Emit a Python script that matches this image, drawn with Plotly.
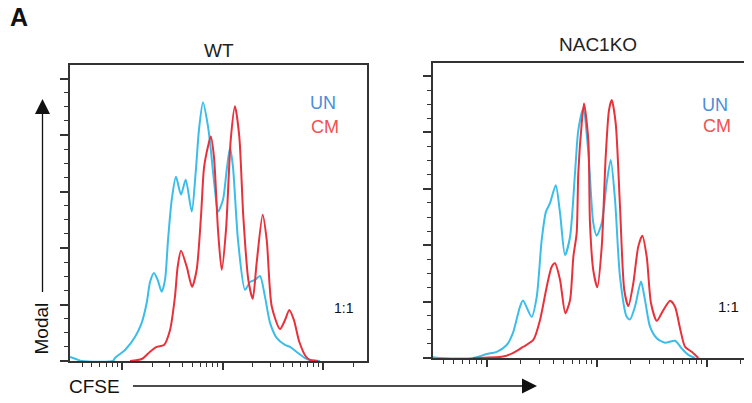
import numpy as np
import plotly.graph_objects as go

# ---------------- data (log10 CFSE intensity, % of max) ----------------
wt_un_log = [2.483, 2.542, 2.602, 2.910, 2.930, 3.030, 3.129, 3.196, 3.246, 3.279, 3.318, 3.355,
             3.395, 3.428, 3.458, 3.495, 3.537, 3.587, 3.634, 3.694, 3.733, 3.766, 3.806, 3.856,
             3.876, 3.925, 3.955, 4.005, 4.042, 4.075, 4.104, 4.154, 4.224, 4.274, 4.323, 4.373,
             4.423, 4.473, 4.539, 4.622, 4.672, 4.738, 4.821, 4.871, 4.970]
wt_un_val = [1.4, 0.7, 0.0, 0.0, 1.06, 3.9, 8.5, 13.5, 20.6, 28.0, 31.2, 28.7,
             24.5, 28.7, 42.9, 57.1, 65.2, 58.9, 64.2, 52.9, 66.7, 81.9, 91.6, 83.0,
             77.3, 60.6, 52.9, 57.1, 67.7, 75.5, 68.8, 42.9, 25.2, 28.0, 28.7, 30.1,
             22.7, 13.5, 8.2, 5.7, 5.0, 3.2, 1.06, 0.35, 0.0]

wt_cm_log = [3.080, 3.196, 3.279, 3.345, 3.418, 3.478, 3.527, 3.554, 3.587, 3.644, 3.697, 3.743,
             3.786, 3.816, 3.856, 3.883, 3.915, 3.955, 3.992, 4.035, 4.082, 4.124, 4.167, 4.207,
             4.257, 4.301, 4.340, 4.400, 4.440, 4.490, 4.572, 4.622, 4.665, 4.711, 4.764, 4.831,
             4.871, 4.950]
wt_cm_val = [0.0, 0.7, 3.3, 5.0, 5.7, 11.0, 22.8, 33.4, 39.0, 33.4, 26.3, 32.3,
             51.2, 68.4, 76.0, 79.5, 72.3, 46.5, 32.3, 46.5, 78.4, 90.2, 79.5, 51.2,
             28.7, 22.0, 34.8, 51.8, 42.9, 19.3, 11.3, 14.5, 18.1, 14.5, 6.8, 1.5,
             0.35, 0.0]

ko_un_log = [2.506, 2.573, 2.873, 2.997, 3.088, 3.179, 3.236, 3.300, 3.327, 3.406, 3.452, 3.497,
             3.536, 3.573, 3.625, 3.664, 3.709, 3.755, 3.800, 3.830, 3.875, 3.921, 3.966, 3.997,
             4.043, 4.088, 4.125, 4.164, 4.209, 4.270, 4.300, 4.345, 4.400, 4.436, 4.482, 4.543,
             4.618, 4.709, 4.770, 4.830, 4.891]
ko_un_val = [0.25, 0.0, 0.0, 1.4, 2.2, 4.6, 8.9, 18.2, 20.4, 14.6, 21.7, 41.8,
             51.9, 54.9, 61.3, 51.4, 36.5, 43.0, 65.6, 80.8, 88.5, 73.0, 47.9, 43.4,
             47.9, 62.1, 70.2, 56.0, 28.8, 14.6, 13.7, 18.2, 27.1, 20.6, 11.1, 7.0,
             5.4, 6.1, 3.4, 1.1, 0.0]

ko_cm_log = [2.873, 3.145, 3.239, 3.330, 3.421, 3.482, 3.543, 3.588, 3.618, 3.664, 3.712, 3.755,
             3.785, 3.815, 3.830, 3.861, 3.882, 3.921, 3.936, 3.966, 4.003, 4.043, 4.079, 4.109,
             4.134, 4.170, 4.209, 4.248, 4.285, 4.330, 4.375, 4.412, 4.452, 4.491, 4.543, 4.603,
             4.664, 4.709, 4.755, 4.800, 4.861, 4.921]
ko_cm_val = [0.0, 0.5, 1.8, 4.0, 6.4, 13.5, 25.3, 32.4, 33.6, 27.7, 15.9, 20.6,
             35.9, 44.3, 65.6, 83.2, 90.3, 77.3, 47.9, 31.2, 25.1, 39.5, 71.4, 87.9,
             91.5, 83.2, 53.7, 24.1, 18.4, 26.5, 39.5, 43.4, 35.9, 19.4, 13.2, 17.0,
             20.3, 18.2, 10.5, 4.0, 2.2, 0.0]

panel_titles = ["WT", "NAC1KO"]
series_names = ["UN", "CM"]
ratio_label = "1:1"

# ---------------- layout helpers (page pixel -> paper) ----------------
# the page body has an 8 px default margin, so the figure is 8 px smaller and offset
OFF = 8
W, H = 752 - OFF, 403 - OFF
def px(x):
    return (x - OFF) / W
def py(y):
    return 1 - (y - OFF) / H

BLUE = "#3bbdea"
RED = "#e8313a"
UN_TXT = "#4a8fd8"
CM_TXT = "#f05252"
AX = "#333333"
FONT = "Liberation Sans, Arial, sans-serif"

fig = go.Figure()

panels = [
    dict(xa="x", ya="y", un=(wt_un_log, wt_un_val), cm=(wt_cm_log, wt_cm_val)),
    dict(xa="x2", ya="y2", un=(ko_un_log, ko_un_val), cm=(ko_cm_log, ko_cm_val)),
]
for p in panels:
    for (lx, vals), col, name in [(p["un"], BLUE, "UN"), (p["cm"], RED, "CM")]:
        fig.add_trace(go.Scatter(
            x=10 ** np.array(lx), y=vals, mode="lines", name=name,
            line=dict(color=col, width=2, shape="spline", smoothing=0.7),
            xaxis=p["xa"], yaxis=p["ya"], showlegend=False, hoverinfo="skip"))

def xaxis_cfg(domain, rng, mirror):
    return dict(domain=domain, type="log", range=rng, showgrid=False, zeroline=False,
                showline=True, linecolor=AX, linewidth=1.5, mirror=mirror,
                ticks="outside", ticklen=7, tickwidth=2, tickcolor=AX, dtick=1,
                showticklabels=False,
                minor=dict(ticks="outside", ticklen=4, tickwidth=1, tickcolor=AX, dtick="D1"))

def yaxis_cfg(domain, anchor, mirror):
    return dict(domain=domain, range=[0, 104.8], anchor=anchor, showgrid=False, zeroline=False,
                showline=True, linecolor=AX, linewidth=1.5, mirror=mirror,
                ticks="outside", ticklen=8, tickwidth=2, tickcolor=AX, dtick=20, tick0=0,
                showticklabels=False,
                minor=dict(ticks="outside", ticklen=4, tickwidth=1, tickcolor=AX, dtick=5, tick0=0))

fig.update_layout(
    width=W, height=H, margin=dict(l=0, r=0, t=0, b=0),
    paper_bgcolor="white", plot_bgcolor="white",
    font=dict(family=FONT, color="#222222"),
    xaxis=dict(**xaxis_cfg([px(70), px(367)], [2.4826, 5.4378], True), anchor="y"),
    yaxis=yaxis_cfg([py(361), py(65)], "x", True),
    xaxis2=dict(**xaxis_cfg([px(433), 1.0], [2.509, 5.409], True), anchor="y2"),
    yaxis2=yaxis_cfg([py(358), py(62.5)], "x2", False),
)

ann = []
def text(x, y, s, size, color="#222222", bold=False, angle=0):
    ann.append(dict(x=px(x), y=py(y), xref="paper", yref="paper", text=("<b>%s</b>" % s) if bold else s,
                    showarrow=False, xanchor="center", yanchor="middle", textangle=angle,
                    font=dict(size=size, color=color, family=FONT)))

text(18.5, 16.5, "A", 25, "#111111", bold=True)
text(219, 50, panel_titles[0], 19)
text(598, 44.5, panel_titles[1], 19)
text(323, 103.5, series_names[0], 18, UN_TXT)
text(324.5, 126.5, series_names[1], 18, CM_TXT)
text(715, 105, series_names[0], 18, UN_TXT)
text(716.5, 126, series_names[1], 18, CM_TXT)
text(344, 308, ratio_label, 14, "#111111")
text(728, 306, ratio_label, 15, "#111111")
text(40.5, 329, "Modal", 19, "#111111", angle=-90)
text(94.5, 386, "CFSE", 19, "#111111")
fig.update_layout(annotations=ann)

shapes = [
    dict(type="line", xref="paper", yref="paper", x0=px(42.5), x1=px(42.5), y0=py(292), y1=py(112),
         line=dict(color="#111111", width=1.3)),
    dict(type="path", xref="paper", yref="paper",
         path="M %f %f L %f %f L %f %f Z" % (px(42.5), py(99), px(35), py(114), px(50), py(114)),
         fillcolor="#111111", line=dict(color="#111111", width=0)),
    dict(type="line", xref="paper", yref="paper", x0=px(133), x1=px(523), y0=py(386), y1=py(386),
         line=dict(color="#111111", width=1.3)),
    dict(type="path", xref="paper", yref="paper",
         path="M %f %f L %f %f L %f %f Z" % (px(537), py(386), px(522), py(378.5), px(522), py(393.5)),
         fillcolor="#111111", line=dict(color="#111111", width=0)),
]
fig.update_layout(shapes=shapes)

fig.write_html("out.html")
